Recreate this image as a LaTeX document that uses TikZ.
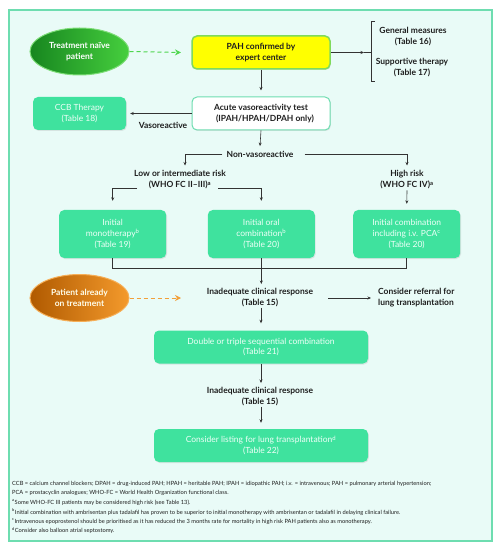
\documentclass[tikz,border=0pt]{standalone}
\usepackage{fontspec}
\setmainfont{Lato}
\usetikzlibrary{arrows.meta,shadows,shapes.geometric}
\definecolor{bgc}{HTML}{E9FBF7}
\definecolor{frm}{HTML}{6EDDB0}
\definecolor{tealbox}{HTML}{3FE29E}
\definecolor{boxtxt}{HTML}{EFFFF8}
\definecolor{linec}{HTML}{333333}
\definecolor{txtc}{HTML}{1E1E1E}
\definecolor{yel}{HTML}{FFFF00}
\definecolor{yelbd}{HTML}{7FDA5C}
\definecolor{gdark}{HTML}{17861F}
\definecolor{glight}{HTML}{46CF3E}
\definecolor{gdash}{HTML}{4FD64F}
\definecolor{odark}{HTML}{B05A00}
\definecolor{olight}{HTML}{F49A2C}
\definecolor{odash}{HTML}{F2A03A}
\tikzset{
  arr/.style={draw=linec, line width=0.6bp, -{Stealth[length=3.5bp,width=3bp]}},
  ln/.style={draw=linec, line width=0.6bp},
  tbox/.style={rounded corners=5bp, fill=tealbox, text=boxtxt, align=center,
     font=\fontsize{8.5}{11}\selectfont, inner sep=0pt,
     drop shadow={shadow xshift=0.8bp, shadow yshift=-1bp, opacity=0.18}},
  lbl/.style={text=txtc, align=center, font=\bfseries\fontsize{8.5}{11}\selectfont, inner sep=1pt},
  oval/.style={ellipse, minimum width=99bp, minimum height=47bp, inner sep=0pt, align=center,
     font=\bfseries\fontsize{8.5}{11}\selectfont, line width=1bp},
  note/.style={anchor=west, text=txtc, font=\fontsize{5.75}{7}\selectfont, inner sep=0pt}
}
\begin{document}
\begin{tikzpicture}[x=1bp,y=-1bp]
\useasboundingbox (0,0) rectangle (502,549);
\draw[draw=frm, fill=bgc, line width=1.2bp] (9,10) rectangle (492,541);

% top row
\node[oval, left color=gdark, right color=glight, draw=glight!70!white, text=white] (naive) at (79.5,51.5) {Treatment na\"ive\\patient};
\node[rounded corners=5bp, fill=yel, draw=yelbd, line width=1.5bp, minimum width=138bp, minimum height=33bp,
      align=center, font=\bfseries\fontsize{8.5}{11}\selectfont, text=txtc, inner sep=0pt,
      drop shadow={shadow xshift=0.8bp, shadow yshift=-1bp, opacity=0.18}] (pah) at (261,52.5) {PAH confirmed by\\expert center};
\draw[draw=gdash, line width=1bp, dash pattern=on 4bp off 3bp, -{Stealth[length=6bp,width=6bp]}] (naive.east) -- (181,52.5);

\coordinate (brkarr) at (364,52.5);
\coordinate (brkmid) at (371,52.5);
\coordinate (brktop) at (371,21);
\coordinate (brkbot) at (371,81);
\draw[arr] (pah.east) -- (brkarr);
\draw[ln] (brkarr) -- (brkmid);
\draw[ln] ([xshift=4bp]brktop) -- (brktop) -- (brkbot) -- ([xshift=4bp]brkbot);
\node[lbl] (gen) at (413,37) {General measures\\(Table 16)};
\node[lbl] (sup) at (412,68) {Supportive therapy\\(Table 17)};

% acute test
\node[rounded corners=5bp, fill=white, draw=frm, line width=1bp, minimum width=138bp, minimum height=33bp,
      align=center, font=\bfseries\fontsize{8.5}{11}\selectfont, text=txtc, inner sep=0pt,
      drop shadow={shadow xshift=0.8bp, shadow yshift=-1bp, opacity=0.18}] (acute) at (261,113.5) {Acute vasoreactivity test\\\hspace*{8bp}(IPAH/HPAH/DPAH only)};
\draw[arr, shorten >=6bp] (pah.south) -- (acute.north);

\node[tbox, minimum width=93bp, minimum height=33bp] (ccb) at (79.5,113.5) {CCB Therapy\\(Table 18)};
\draw[arr, shorten >=4bp] (acute.west) -- (ccb.east);
\node[lbl] (vaso) at (163,125) {Vasoreactive};

% non-vasoreactive
\node[lbl] (nonv) at (260,154.5) {Non-vasoreactive};
\draw[arr] (acute.south) -- ([yshift=4bp]nonv.north);
\coordinate (lrtop) at (185,154.5);
\coordinate (hrtop) at (407,154.5);
\node[lbl] (low) at (180,180) {Low or intermediate risk\\(WHO FC II--III)\textsuperscript{a}};
\node[lbl] (high) at (407,180) {High risk\\(WHO FC IV)\textsuperscript{a}};
\draw[arr] ([xshift=-3bp]nonv.west) -- (lrtop) -- ([yshift=4bp]low.north -| lrtop);
\draw[arr] ([xshift=10bp]nonv.east) -- (hrtop) -- ([yshift=4bp]high.north);

% three boxes
\node[tbox, minimum width=107bp, minimum height=48bp] (mono) at (112.7,234) {Initial\\monotherapy\textsuperscript{b}\\(Table 19)};
\node[tbox, minimum width=107bp, minimum height=48bp] (oral) at (261.3,234) {Initial oral\\combination\textsuperscript{b}\\(Table 20)};
\node[tbox, minimum width=107bp, minimum height=48bp] (comb) at (406.7,234) {Initial combination\\including i.v. PCA\textsuperscript{c}\\(Table 20)};

\coordinate (lowl) at (112.7,188.5);
\coordinate (lowr) at (261.3,188.5);
\draw[arr, shorten >=9bp] (137,188.5) -- (lowl) -- (mono.north);
\draw[arr, shorten >=9bp] (218,188.5) -- (lowr) -- (oral.north);
\draw[arr, shorten >=6bp] (high.south) -- (comb.north);

% join
\coordinate (jl) at (112.7,268);
\coordinate (jm) at (261.3,268);
\coordinate (jr) at (406.7,268);
\draw[ln] (mono.south) -- (jl) -- (jr) -- (comb.south);
\draw[ln] (oral.south) -- (jm);

\node[lbl] (inad1) at (260,297.5) {Inadequate clinical response\\(Table 15)};
\draw[arr, shorten >=3bp] (jm) -- (inad1.north -| jm);

\node[oval, left color=odark, right color=olight, draw=olight!80!white, text=white!92!yellow] (already) at (79.5,298) {Patient already\\on treatment};
\draw[draw=odash, line width=1bp, dash pattern=on 4bp off 3bp, -{Stealth[length=6bp,width=6bp]}] (already.east) -- (181,298);

\node[lbl, align=left, anchor=west] (refer) at (377,298) {Consider referral for\\lung transplantation};
\coordinate (refstart) at (328,298);
\draw[arr, shorten >=6bp] (refstart) -- (refer.west);

\node[tbox, minimum width=214bp, minimum height=33bp] (dbl) at (261,347) {Double or triple sequential combination\\(Table 21)};
\draw[arr, shorten >=7bp] (inad1.south -| dbl.north) -- (dbl.north);

\node[lbl] (inad2) at (260,396.5) {Inadequate clinical response\\(Table 15)};
\draw[arr, shorten >=3bp] (dbl.south) -- (inad2.north -| dbl.south);

\node[tbox, minimum width=214bp, minimum height=33bp] (list) at (261,445.5) {Consider listing for lung transplantation\textsuperscript{d}\\(Table 22)};
\draw[arr, shorten >=6bp] (inad2.south -| list.north) -- (list.north);

% notes
\node[note] (n1) at (12,484) {CCB = calcium channel blockers; DPAH = drug-induced PAH; HPAH = heritable PAH; IPAH = idiopathic PAH; i.v. = intravenous; PAH = pulmonary arterial hypertension;};
\node[note] (n2) at (12,493.3) {PCA = prostacyclin analogues; WHO-FC = World Health Organization functional class.};
\node[note] (n3) at (12,502.7) {\textsuperscript{a}Some WHO-FC III patients may be considered high risk (see Table 13).};
\node[note] (n4) at (12,512) {\textsuperscript{b}Initial combination with ambrisentan plus tadalafil has proven to be superior to initial monotherapy with ambrisentan or tadalafil in delaying clinical failure.};
\node[note] (n5) at (12,521.3) {\textsuperscript{c}Intravenous epoprostenol should be prioritised as it has reduced the 3 months rate for mortality in high risk PAH patients also as monotherapy.};
\node[note] (n6) at (12,530.6) {\textsuperscript{d}Consider also balloon atrial septostomy.};
\end{tikzpicture}
\end{document}
